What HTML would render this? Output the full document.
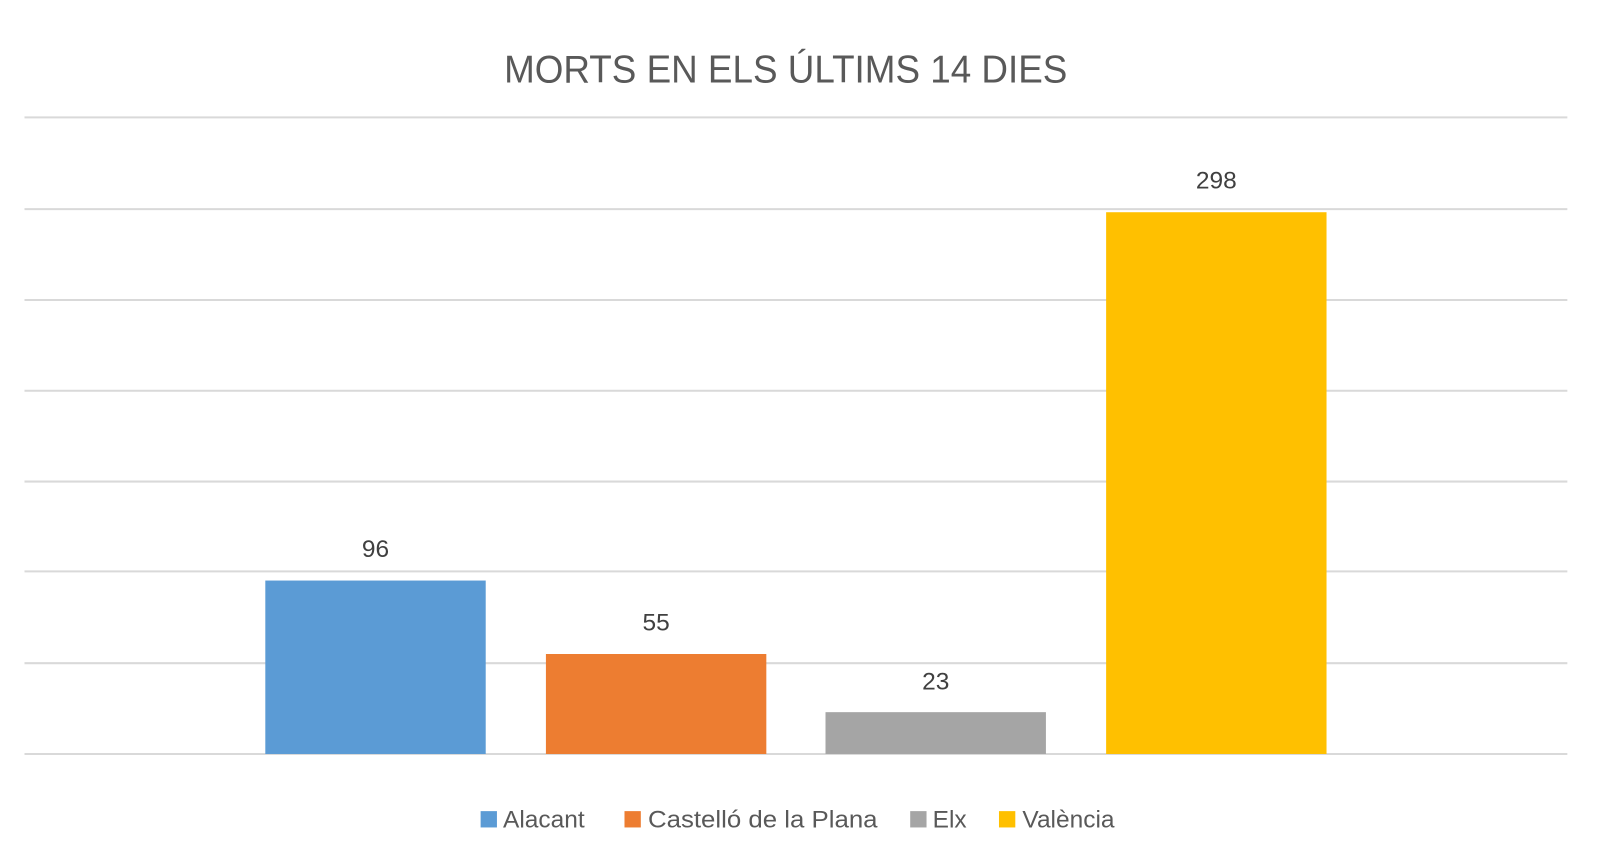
<!DOCTYPE html>
<html><head><meta charset="utf-8"><style>
body{margin:0;background:#fff;width:1600px;height:855px;overflow:hidden;font-family:"Liberation Sans",sans-serif;}
svg{display:block}
</style></head><body>
<svg width="1600" height="855" viewBox="0 0 1568 838" preserveAspectRatio="none" xmlns="http://www.w3.org/2000/svg" font-family="Liberation Sans, sans-serif">
<text x="770" y="81" text-anchor="middle" font-size="38" fill="#595959" textLength="552" lengthAdjust="spacingAndGlyphs">MORTS EN ELS ÚLTIMS 14 DIES</text>
<g stroke="#d9d9d9" stroke-width="2">
<line x1="24" x2="1536" y1="115" y2="115"/>
<line x1="24" x2="1536" y1="205" y2="205"/>
<line x1="24" x2="1536" y1="294" y2="294"/>
<line x1="24" x2="1536" y1="383" y2="383"/>
<line x1="24" x2="1536" y1="472" y2="472"/>
<line x1="24" x2="1536" y1="560" y2="560"/>
<line x1="24" x2="1536" y1="650" y2="650"/>
<line x1="24" x2="1536" y1="739" y2="739"/>
</g>
<rect x="260" y="569" width="216" height="170" fill="#5b9bd5"/>
<rect x="535" y="641" width="216" height="98" fill="#ed7d31"/>
<rect x="809" y="698" width="216" height="41" fill="#a5a5a5"/>
<rect x="1084" y="208" width="216" height="531" fill="#ffc000"/>
<g font-size="24" fill="#404040" text-anchor="middle">
<text x="368" y="546">96</text>
<text x="643" y="618">55</text>
<text x="917" y="676">23</text>
<text x="1192" y="185">298</text>
</g>
<g font-size="24" fill="#595959">
<rect x="471" y="795" width="16" height="16" fill="#5b9bd5"/><text x="493" y="811">Alacant</text>
<rect x="612" y="795" width="16" height="16" fill="#ed7d31"/><text x="635" y="811" textLength="225" lengthAdjust="spacingAndGlyphs">Castelló de la Plana</text>
<rect x="892" y="795" width="16" height="16" fill="#a5a5a5"/><text x="914" y="811">Elx</text>
<rect x="979" y="795" width="16" height="16" fill="#ffc000"/><text x="1002" y="811">València</text>
</g>
</svg>
</body></html>
